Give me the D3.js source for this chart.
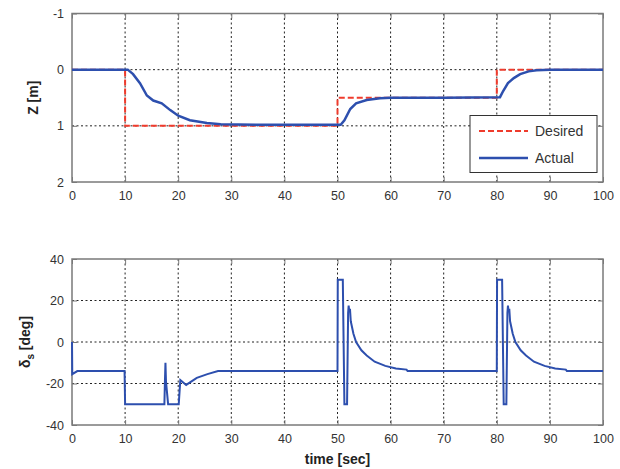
<!DOCTYPE html>
<html>
<head>
<meta charset="utf-8">
<title>Depth response and stern plane</title>
<style>
  body { margin: 0; background: #fff; }
  svg { display: block; font-family: "Liberation Sans", Arial, sans-serif; }
  .tick text { fill: #333; font-size: 12.5px; }
  .grid line { stroke: #222; stroke-width: 1; stroke-dasharray: 2,2.5; }
  .frame { fill: none; stroke: #7a7a7a; stroke-width: 1.5; }
  .lab { font-weight: bold; font-size: 14px; fill: #222; }
</style>
<script src="https://cdnjs.cloudflare.com/ajax/libs/d3/7.8.5/d3.min.js"></script>
</head>
<body>
<div id="chart"></div>
<script>
// time ticks
var xTicks = [0, 10, 20, 30, 40, 50, 60, 70, 80, 90, 100];
var zTicks = [-1, 0, 1, 2];
var dTicks = [-40, -20, 0, 20, 40];

// desired depth (step reference)
var desT = [0, 10, 10, 50, 50, 80, 80, 100];
var desZ = [0, 0, 1, 1, 0.5, 0.5, 0, 0];

// actual depth
var actT = [0, 10.5, 11.5, 12.8, 14.1, 15.3, 16.9, 18.5, 20, 22.2, 25.4, 28, 35, 50.6, 51.3, 52.4, 53.5, 55.5, 58, 60, 70, 80.6, 81.2, 82.1, 83.2, 84.4, 86, 87.5, 90, 100];
var actZ = [0, 0, 0.08, 0.24, 0.46, 0.55, 0.6, 0.72, 0.82, 0.9, 0.95, 0.97, 0.98, 0.98, 0.9, 0.7, 0.6, 0.54, 0.51, 0.5, 0.5, 0.49, 0.38, 0.24, 0.15, 0.08, 0.03, 0.01, 0, 0];

// stern plane deflection
var delT = [0, 0.05, 1, 9.9, 10, 17.4, 17.5, 17.6, 17.7, 18.1, 20.1, 20.4, 21.5, 23.5, 25.5, 27.5,
            50, 50.05, 51, 51.3, 51.8, 52, 52.1, 52.2, 52.35, 52.5, 53, 53.5, 54.5, 55.5, 57, 59, 61, 63, 63.2,
            80, 80.05, 81, 81.3, 81.8, 82, 82.1, 82.2, 82.35, 82.5, 83, 83.5, 84.5, 85.5, 87, 89, 91, 93, 93.2, 100];
var delV = [0, -15.5, -14, -14, -30, -30, -19, -10, -19, -30, -30, -18.3, -20.7, -17.3, -15.5, -14,
            -14, 30, 30, -30, -30, 14, 17.5, 15, 16, 10, 4, 0, -4, -6.5, -9.5, -11.5, -12.8, -13.3, -14,
            -14, 30, 30, -30, -30, 14, 17.5, 15, 16, 10, 4, 0, -4, -6.5, -9.5, -11.5, -12.8, -13.3, -14, -14];

var W = 620, H = 469;
var left = 72, right = 603;
var svg = d3.select("#chart").append("svg").attr("width", W).attr("height", H);

var x = d3.scaleLinear().domain([0, 100]).range([left, right]);
var fmt = function(d) { return String(d); };

function panel(y, yTicks, top, bottom) {
  var g = svg.append("g");
  // grid
  var grid = g.append("g").attr("class", "grid");
  grid.selectAll(".v").data(xTicks.slice(1, -1)).enter().append("line")
    .attr("x1", d => x(d)).attr("x2", d => x(d)).attr("y1", top).attr("y2", bottom);
  grid.selectAll(".h").data(yTicks.slice(1, -1)).enter().append("line")
    .attr("y1", d => y(d)).attr("y2", d => y(d)).attr("x1", left).attr("x2", right);
  // axes, ticks inward
  g.append("g").attr("transform", "translate(0," + bottom + ")")
    .call(d3.axisBottom(x).tickValues(xTicks).tickSizeInner(-5).tickSizeOuter(0).tickPadding(9).tickFormat(fmt));
  g.append("g").attr("transform", "translate(" + left + ",0)")
    .call(d3.axisLeft(y).tickValues(yTicks).tickSizeInner(-5).tickSizeOuter(0).tickPadding(8).tickFormat(fmt));
  g.append("g").attr("transform", "translate(0," + top + ")")
    .call(d3.axisTop(x).tickValues(xTicks).tickSizeInner(-5).tickSizeOuter(0).tickFormat(""));
  g.append("g").attr("transform", "translate(" + right + ",0)")
    .call(d3.axisRight(y).tickValues(yTicks).tickSizeInner(-5).tickSizeOuter(0).tickFormat(""));
  g.selectAll(".domain").remove();
  g.selectAll(".tick line").attr("stroke", "#7a7a7a");
  g.append("rect").attr("class", "frame")
    .attr("x", left).attr("y", top).attr("width", right - left).attr("height", bottom - top);
  return g;
}

// top panel: depth
var yZ = d3.scaleLinear().domain([-1, 2]).range([13.5, 182]);
var gz = panel(yZ, zTicks, 13.5, 182);

var lineZ = d3.line().x(d => x(d[0])).y(d => yZ(d[1]));
gz.append("path").datum(d3.zip(desT, desZ)).attr("d", lineZ)
  .attr("fill", "none").attr("stroke", "#ef3b2c").attr("stroke-width", 2).attr("stroke-dasharray", "6,3");
gz.append("path").datum(d3.zip(actT, actZ)).attr("d", lineZ)
  .attr("fill", "none").attr("stroke", "#2d4fae").attr("stroke-width", 2.5);

svg.append("text").attr("class", "lab")
  .attr("transform", "translate(38," + yZ(0.5) + ") rotate(-90)")
  .attr("text-anchor", "middle").text("Z [m]");

// legend
var lg = svg.append("g");
lg.append("rect").attr("x", 470).attr("y", 115.5).attr("width", 127).attr("height", 57)
  .attr("fill", "#fff").attr("stroke", "#333").attr("stroke-width", 1);
lg.append("line").attr("x1", 479).attr("x2", 528).attr("y1", 131).attr("y2", 131)
  .attr("stroke", "#ef3b2c").attr("stroke-width", 2).attr("stroke-dasharray", "6,3");
lg.append("line").attr("x1", 479).attr("x2", 528).attr("y1", 158).attr("y2", 158)
  .attr("stroke", "#2d4fae").attr("stroke-width", 2.5);
lg.append("text").attr("x", 535).attr("y", 136).attr("font-size", 14).attr("fill", "#333").text("Desired");
lg.append("text").attr("x", 535).attr("y", 163).attr("font-size", 14).attr("fill", "#333").text("Actual");

// bottom panel: stern plane
var yD = d3.scaleLinear().domain([-40, 40]).range([425, 259]);
var gd = panel(yD, dTicks, 259, 425);

var lineD = d3.line().x(d => x(d[0])).y(d => yD(d[1]));
gd.append("path").datum(d3.zip(delT, delV)).attr("d", lineD)
  .attr("fill", "none").attr("stroke", "#2d4fae").attr("stroke-width", 2);

var dl = svg.append("text").attr("class", "lab")
  .attr("transform", "translate(30," + yD(0) + ") rotate(-90)")
  .attr("text-anchor", "middle");
dl.append("tspan").text("\u03b4");
dl.append("tspan").attr("font-size", 10).attr("dy", 4).text("s");
dl.append("tspan").attr("dy", -4).text(" [deg]");

svg.append("text").attr("class", "lab")
  .attr("x", x(50)).attr("y", 464).attr("text-anchor", "middle").text("time [sec]");
</script>
</body>
</html>
